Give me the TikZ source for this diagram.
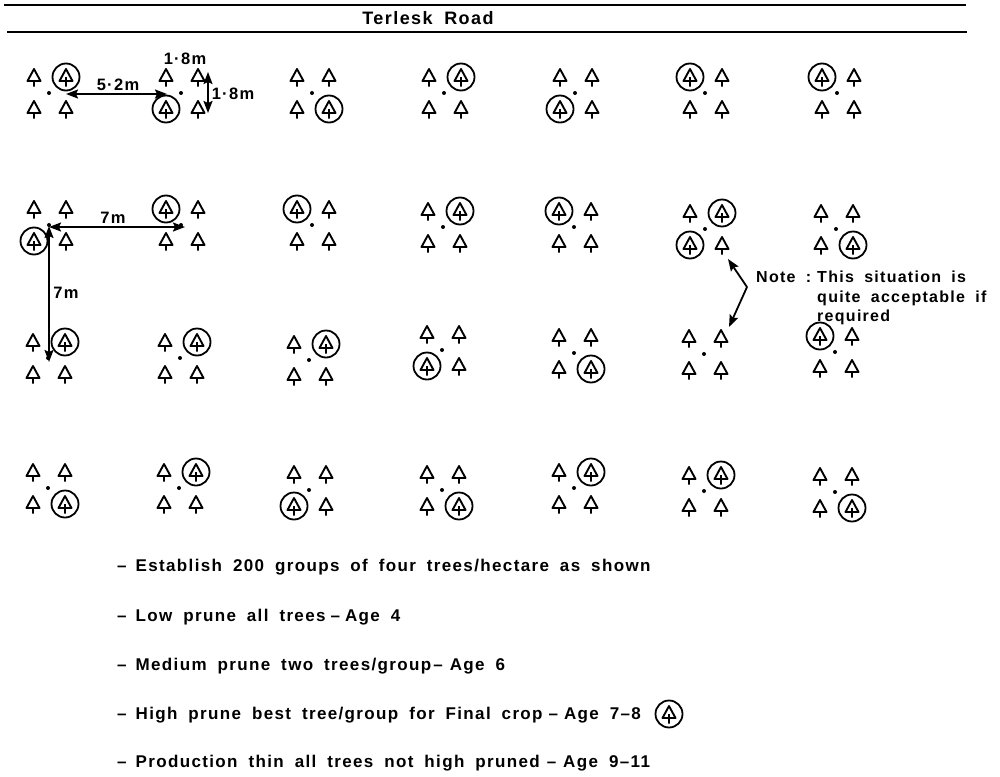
\documentclass[tikz,border=0pt]{standalone}
\usepackage{fontspec}
\usepackage{tikz}
\usetikzlibrary{arrows.meta,positioning}
\newfontfamily\plotfont[LetterSpace=8,WordSpace=1.8]{Liberation Sans Bold}

\begin{document}
\begin{tikzpicture}[
  x=1pt, y=-1pt,
  treeline/.style={line width=1.9pt, line join=round},
  ring/.style={circle, draw, line width=1.8pt, minimum size=27pt, inner sep=0pt,
    path picture={\draw[treeline] (path picture bounding box.center) -- ++(0,4);}},
  txt/.style={font=\fontsize{17}{19.5}\selectfont\plotfont, inner sep=0pt, anchor=west, align=left},
  notetxt/.style={font=\fontsize{16}{19.5}\selectfont\plotfont, inner sep=0pt, anchor=west, align=left},
  dimlabel/.style={font=\fontsize{16.5}{19}\selectfont\plotfont, inner sep=0pt},
  rule/.style={line width=1.8pt},
  arr/.style={-{Stealth[length=12pt,width=9pt,inset=2pt]}, line width=1.8pt},
  darr/.style={{Stealth[length=12pt,width=9pt,inset=2pt]}-{Stealth[length=12pt,width=9pt,inset=2pt]}, line width=1.8pt},
  tree/.pic={\draw[treeline] (0,-8) -- (6.5,4) -- (-6.5,4) -- cycle (0,4) -- (0,9.5);},
  treegroup/.pic={
    \pic at (-16,-16) {tree};
    \pic at (16,-16) {tree};
    \pic at (-16,16) {tree};
    \pic at (16,16) {tree};
    \fill (-1,0) circle (2);
    \coordinate (-tl) at (-16,-16);
    \coordinate (-tr) at (16,-16);
    \coordinate (-bl) at (-16,16);
    \coordinate (-br) at (16,16);
  }
]
\useasboundingbox (0,0) rectangle (1000,776);

% Heading
\coordinate (topl) at (4,5);
\coordinate (topr) at (966,5);
\coordinate (botl) at (7,32);
\coordinate (botr) at (967,32);
\draw[rule] (topl) -- (topr);
\draw[rule] (botl) -- (botr);
\node[dimlabel, font=\fontsize{18}{19}\selectfont\plotfont] (road) at (428,18) {Terlesk Road};

% Row 1
\pic (a1) at (50,93) {treegroup};
\pic (a2) at (182,93) {treegroup};
\pic (a3) at (313,93) {treegroup};
\pic (a4) at (445,93) {treegroup};
\pic (a5) at (576,93) {treegroup};
\pic (a6) at (706,93) {treegroup};
\pic (a7) at (838,93) {treegroup};
\node[ring] (ra1) at (a1-tr) {};
\node[ring] (ra2) at (a2-bl) {};
\node[ring] (ra3) at (a3-br) {};
\node[ring] (ra4) at (a4-tr) {};
\node[ring] (ra5) at (a5-bl) {};
\node[ring] (ra6) at (a6-tl) {};
\node[ring] (ra7) at (a7-tl) {};

% Row 2
\pic (b1) at (50,225) {treegroup};
\pic (b2) at (182,225) {treegroup};
\pic (b3) at (313,225) {treegroup};
\pic (b4) at (444,227) {treegroup};
\pic (b5) at (575,227) {treegroup};
\pic (b6) at (706,229) {treegroup};
\pic (b7) at (837,229) {treegroup};
\node[ring] (rb1) at (b1-bl) {};
\node[ring] (rb2) at (b2-tl) {};
\node[ring] (rb3) at (b3-tl) {};
\node[ring] (rb4) at (b4-tr) {};
\node[ring] (rb5) at (b5-tl) {};
\node[ring] (rb6a) at (b6-tr) {};
\node[ring] (rb6b) at (b6-bl) {};
\node[ring] (rb7) at (b7-br) {};

% Row 3
\pic (c1) at (49,358) {treegroup};
\pic (c2) at (181,358) {treegroup};
\pic (c3) at (310,360) {treegroup};
\pic (c4) at (443,350) {treegroup};
\pic (c5) at (575,353) {treegroup};
\pic (c6) at (705,354) {treegroup};
\pic (c7) at (836,352) {treegroup};
\node[ring] (rc1) at (c1-tr) {};
\node[ring] (rc2) at (c2-tr) {};
\node[ring] (rc3) at (c3-tr) {};
\node[ring] (rc4) at (c4-bl) {};
\node[ring] (rc5) at (c5-br) {};
\node[ring] (rc7) at (c7-tl) {};

% Row 4
\pic (d1) at (49,488) {treegroup};
\pic (d2) at (180,488) {treegroup};
\pic (d3) at (310,490) {treegroup};
\pic (d4) at (443,490) {treegroup};
\pic (d5) at (575,488) {treegroup};
\pic (d6) at (705,491) {treegroup};
\pic (d7) at (836,492) {treegroup};
\node[ring] (rd1) at (d1-br) {};
\node[ring] (rd2) at (d2-tr) {};
\node[ring] (rd3) at (d3-bl) {};
\node[ring] (rd4) at (d4-br) {};
\node[ring] (rd5) at (d5-tr) {};
\node[ring] (rd6) at (d6-tr) {};
\node[ring] (rd7) at (d7-br) {};

% Spacing arrows
\coordinate (wide1) at (66,94);
\coordinate (wide2) at (167,94);
\coordinate (tall1) at (208,72);
\coordinate (tall2) at (208,113);
\coordinate (sevenx1) at (49,227);
\coordinate (sevenx2) at (185,227);
\coordinate (seveny1) at (49,226);
\coordinate (seveny2) at (49,362);
\draw[darr] (wide1) -- (wide2);
\draw[darr] (tall1) -- (tall2);
\draw[darr] (sevenx1) -- (sevenx2);
\draw[darr] (seveny1) -- (seveny2);
\node[dimlabel] (widelabel) at (118,85) {5·2m};
\node[dimlabel] (toplabel) at (185,59) {1·8m};
\node[dimlabel] (talllabel) at (233,94) {1·8m};
\node[dimlabel] (sevenxlabel) at (113,218) {7m};
\node[dimlabel] (sevenylabel) at (66,293) {7m};

% Note
\coordinate (knee) at (747,287);
\coordinate (noteup) at (728,259);
\coordinate (notedown) at (729,327);
\draw[arr] (knee) -- (noteup);
\draw[arr] (knee) -- (notedown);
\node[notetxt] (notelabel) at (756,277) {Note :};
\node[notetxt, anchor=north west] (notetext) at (817,271) {This situation is\\quite acceptable if\\required};

% Instructions
\node[txt] (step1) at (117,567) {–\hspace{9pt}Establish 200 groups of four trees/hectare as shown};
\node[txt] (step2) at (117,617) {–\hspace{9pt}Low prune all trees\hspace{5pt}–\hspace{5pt}Age 4};
\node[txt] (step3) at (117,666) {–\hspace{9pt}Medium prune two trees/group\hspace{2pt}–\hspace{7pt}Age 6};
\node[txt] (step4) at (117,715) {–\hspace{9pt}High prune best tree/group for Final crop\hspace{6pt}–\hspace{6pt}Age 7–8};
\node[txt] (step5) at (117,763) {–\hspace{9pt}Production thin all trees not high pruned\hspace{7pt}–\hspace{7pt}Age 9–11};
\pic at (669,714) {tree};
\node[ring] (legend) at (669,714) {};

\end{tikzpicture}
\end{document}
